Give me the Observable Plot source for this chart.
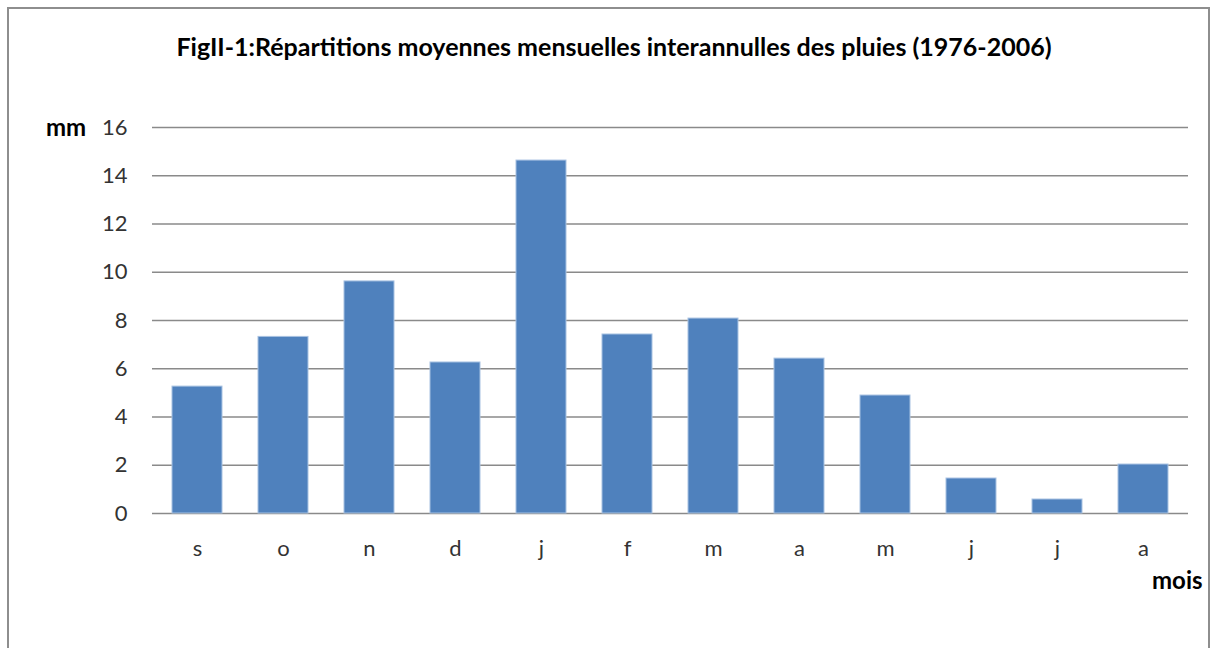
<!DOCTYPE html>
<html>
<head>
<meta charset="utf-8">
<script src="https://cdn.jsdelivr.net/npm/d3@7"></script>
<script src="https://cdn.jsdelivr.net/npm/@observablehq/plot@0.6"></script>
<style>
  html, body { margin: 0; padding: 0; background: #fff; }
  #wrap { position: relative; width: 1215px; height: 648px; overflow: hidden; font-family: Lato, "Open Sans", sans-serif; }
  #frame { position: absolute; left: 7px; top: 7px; width: 1203px; height: 700px; border: 2px solid #8e8e8e; box-sizing: border-box; }
  #chart { position: absolute; left: 0; top: 0; }
  .lbl { position: absolute; font-weight: bold; color: #000; white-space: nowrap; }
  #title { left: 0; width: 1228px; text-align: center; top: 31px; font-size: 25px; letter-spacing: 0px; }
  #ylab { left: 46px; top: 112px; font-size: 24px; }
  #xlab { left: 1152px; top: 565px; font-size: 24px; }
</style>
</head>
<body>
<div id="wrap">
  <div id="frame"></div>
  <div id="chart"></div>
  <div class="lbl" id="title">FigII-1:Répartitions moyennes mensuelles interannulles des pluies (1976-2006)</div>
  <div class="lbl" id="ylab">mm</div>
  <div class="lbl" id="xlab">mois</div>
</div>
<script>
const months = ["s", "o", "n", "d", "j", "f", "m", "a", "m", "j", "j", "a"];
const rainfall = [5.26, 7.32, 9.62, 6.26, 14.63, 7.42, 8.08, 6.42, 4.89, 1.45, 0.58, 2.03];
const yTicks = [0, 2, 4, 6, 8, 10, 12, 14, 16];

const data = months.map((m, i) => ({ idx: i, month: m, value: rainfall[i] }));

const chart = Plot.plot({
  width: 1215,
  height: 648,
  marginLeft: 152,
  marginRight: 27,
  marginTop: 127,
  marginBottom: 135,
  style: { background: "transparent", fontFamily: "Lato, 'Open Sans', sans-serif", fontSize: "22px", color: "#333" },
  x: { domain: d3.range(months.length), paddingInner: 0.42, paddingOuter: 0.21, label: null },
  y: { domain: [0, 16], label: null },
  marks: [
    Plot.gridY(yTicks, { stroke: "#8a8a8a", strokeOpacity: 1, strokeWidth: 1.3 }),
    Plot.barY(data, { x: "idx", y: "value", fill: "#4F81BD", stroke: "#a8c2e2", strokeWidth: 1 }),
    Plot.axisY(yTicks, { tickSize: 0, tickPadding: 25, fontSize: 22, fill: "#333", label: null }),
    Plot.axisX({ tickSize: 0, tickPadding: 27, fontSize: 22, fill: "#333", label: null, tickFormat: i => months[i] })
  ]
});
document.getElementById("chart").appendChild(chart);
</script>
</body>
</html>
